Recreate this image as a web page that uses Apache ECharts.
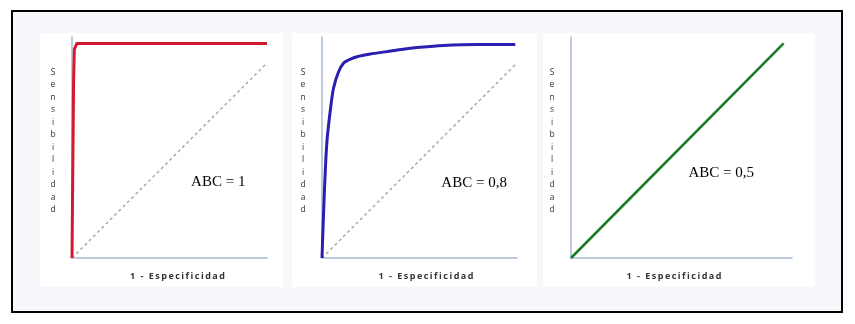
<!DOCTYPE html>
<html>
<head>
<meta charset="utf-8">
<script src="https://cdn.jsdelivr.net/npm/echarts@6/dist/echarts.min.js"></script>
<style>
html,body{margin:0;padding:0;background:#ffffff;}
#chart{width:855px;height:324px;}
</style>
</head>
<body>
<div id="chart"></div>
<script>
// ---- data ----
const perfectX = [0, 0.008, 0.012, 0.025, 1.0];
const perfectY = [0, 0.90, 1.07, 1.10, 1.10];

const goodX = [0, 0.008, 0.017, 0.026, 0.043, 0.059, 0.085, 0.111, 0.136, 0.179, 0.248, 0.333, 0.417, 0.504, 0.622, 0.795, 0.991];
const goodY = [0, 0.23, 0.45, 0.605, 0.76, 0.87, 0.955, 1.0, 1.015, 1.032, 1.046, 1.058, 1.07, 1.08, 1.089, 1.094, 1.094];

const randomX = [0, 1.09];
const randomY = [0, 1.10];

const refX = [0, 1];
const refY = [0, 1];

const aucLabels = ['ABC = 1', 'ABC = 0,8', 'ABC = 0,5'];
const yAxisTitle = 'Sensibilidad';
const xAxisTitle = '1 - Especificidad';

// ---- helpers ----
const zip = (xs, ys) => xs.map((x, i) => [x, ys[i]]);
const yName = yAxisTitle.split('').join('\n') + '\n';
const xName = xAxisTitle.split('').join('\u2009');

const axisLineStyle = { color: '#a9bad3', width: 1.5 };

const grids = [
  { left: 72, top: 37, width: 195, height: 221 },
  { left: 322, top: 37, width: 195, height: 221 },
  { left: 571, top: 37, width: 221, height: 221 }
];
const xMax = [1, 1, 1.133];
const yMax = 1.133;
const xNamePad = [[0, 0, 0, 16], [0, 0, 0, 13], [0, 15, 0, 0]];

function xAxisDef(i) {
  return {
    type: 'value', gridIndex: i, min: 0, max: xMax[i],
    axisLine: { show: true, lineStyle: axisLineStyle },
    axisTick: { show: false }, axisLabel: { show: false }, splitLine: { show: false },
    name: xName, nameLocation: 'middle', nameGap: 14,
    nameTextStyle: { fontFamily: 'Open Sans', fontSize: 9, color: '#333', fontWeight: 'bold', padding: xNamePad[i] }
  };
}
function yAxisDef(i) {
  return {
    type: 'value', gridIndex: i, min: 0, max: yMax,
    axisLine: { show: true, lineStyle: axisLineStyle },
    axisTick: { show: false }, axisLabel: { show: false }, splitLine: { show: false },
    name: yName, nameLocation: 'middle', nameRotate: 0, nameGap: 19,
    nameTextStyle: { fontFamily: 'Open Sans', fontSize: 8.5, color: '#333', lineHeight: 12.5,
      align: 'center', verticalAlign: 'middle' }
  };
}

const refSeries = (i) => ({
  type: 'line', xAxisIndex: i, yAxisIndex: i, data: zip(refX, refY), symbol: 'none',
  lineStyle: { color: '#a3a3a3', width: 1.4, type: [3, 3] }, z: 1
});

const labelSeries = (i, pos) => ({
  type: 'scatter', xAxisIndex: i, yAxisIndex: i, symbolSize: 0, data: [pos],
  itemStyle: { color: '#000' },
  label: { show: true, position: 'inside', formatter: aucLabels[i],
    fontFamily: 'Liberation Serif', fontSize: 15, color: '#000', textBorderWidth: 0, opacity: 1 },
  silent: true
});

const option = {
  animation: false,
  backgroundColor: '#ffffff',
  graphic: [
    { type: 'rect', shape: { x: 12, y: 11, width: 830, height: 301 },
      style: { fill: '#f6f8fc', stroke: '#000', lineWidth: 2 }, z: -10 },
    { type: 'rect', shape: { x: 40, y: 33, width: 243, height: 254 }, style: { fill: '#ffffff' }, z: -9 },
    { type: 'rect', shape: { x: 292, y: 33, width: 245, height: 254 }, style: { fill: '#ffffff' }, z: -9 },
    { type: 'rect', shape: { x: 543, y: 33, width: 272, height: 254 }, style: { fill: '#ffffff' }, z: -9 }
  ],
  grid: grids,
  xAxis: [xAxisDef(0), xAxisDef(1), xAxisDef(2)],
  yAxis: [yAxisDef(0), yAxisDef(1), yAxisDef(2)],
  series: [
    refSeries(0),
    { type: 'line', xAxisIndex: 0, yAxisIndex: 0, data: zip(perfectX, perfectY), symbol: 'none',
      lineStyle: { color: '#d3192f', width: 3 }, z: 3 },
    refSeries(1),
    { type: 'line', xAxisIndex: 1, yAxisIndex: 1, data: zip(goodX, goodY), symbol: 'none', smooth: 0.3,
      lineStyle: { color: '#2a1fb0', width: 3 }, z: 3 },
    { type: 'line', xAxisIndex: 2, yAxisIndex: 2, data: zip(randomX, randomY), symbol: 'none',
      lineStyle: { color: '#167a26', width: 2.5 }, z: 3 },
    labelSeries(0, [0.75, 0.39]),
    labelSeries(1, [0.78, 0.385]),
    labelSeries(2, [0.77, 0.436])
  ]
};

const chart = echarts.init(document.getElementById('chart'), null, { renderer: 'canvas' });
chart.setOption(option);
</script>
</body>
</html>
